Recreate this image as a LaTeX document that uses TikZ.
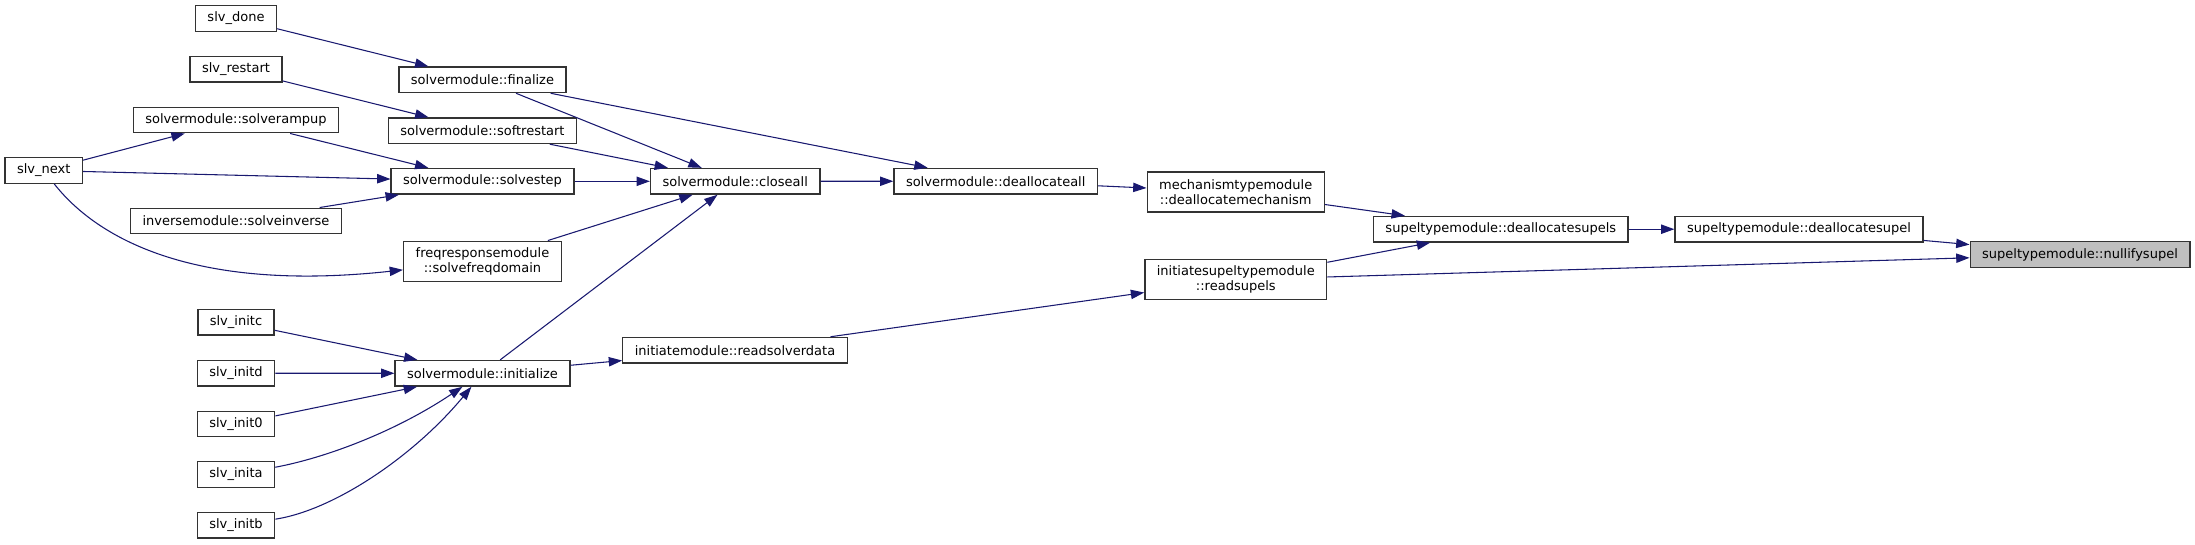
\documentclass[tikz,border=0pt]{standalone}
\usepackage{fontspec}
\setmainfont{DejaVu Sans}
\usepackage{tikz}
\usetikzlibrary{arrows.meta}

\definecolor{edgeblue}{HTML}{191970}
\definecolor{hitgray}{HTML}{BFBFBF}

\begin{document}
\begin{tikzpicture}[x=0.75pt,y=-0.75pt,
    >={Triangle[length=10pt,width=7pt]},
    fn/.style={draw=black!80, line width=1pt, fill=white,
        font=\fontsize{9.75}{11.25}\selectfont,
        inner xsep=9pt, inner ysep=0pt, minimum height=19.2pt},
    fntwo/.style={fn, align=center, minimum height=30pt},
    call/.style={->, draw=edgeblue, line width=0.8pt}]

    \useasboundingbox (0,0) rectangle (2195,544);

    % Callers, left column
    \node[fn] (done)    at (236,18.5)  {slv\_done};
    \node[fn] (restart) at (236,69.3)  {slv\_restart};
    \node[fn] (rampup)  at (236,120)   {solvermodule::solverampup};
    \node[fn] (next)    at (43.7,170.5) {slv\_next};
    \node[fn] (inverse) at (236,221)   {inversemodule::solveinverse};
    \node[fn] (initc)   at (236,322.3) {slv\_initc};
    \node[fn] (initd)   at (236,373.2) {slv\_initd};
    \node[fn] (initz)   at (236,424)   {slv\_init0};
    \node[fn] (inita)   at (236,474.5) {slv\_inita};
    \node[fn] (initb)   at (236,525.2) {slv\_initb};

    % Middle column
    \node[fn] (finalize)    at (482.5,79.8)  {solvermodule::finalize};
    \node[fn] (softrestart) at (482.5,130.7) {solvermodule::softrestart};
    \node[fn] (solvestep)   at (482.5,181.3) {solvermodule::solvestep};
    \node[fntwo] (freqdomain) at (482.5,261.2) {freqresponsemodule\\::solvefreqdomain};
    \node[fn] (initialize)  at (482.5,373.3) {solvermodule::initialize};

    \node[fn] (closeall)    at (735.2,181.3) {solvermodule::closeall};
    \node[fn] (readsolver)  at (735,350.2)   {initiatemodule::readsolverdata};
    \node[fn] (deallocall)  at (995.7,181.2) {solvermodule::deallocateall};

    % Right part
    \node[fntwo] (deallocmech) at (1235.7,192)   {mechanismtypemodule\\::deallocatemechanism};
    \node[fntwo] (readsupels)  at (1235.8,279.7) {initiatesupeltypemodule\\::readsupels};
    \node[fn] (deallocsupels)  at (1500.8,229.2) {supeltypemodule::deallocatesupels};
    \node[fn] (deallocsupel)   at (1799,229.2)   {supeltypemodule::deallocatesupel};
    \node[fn, fill=hitgray] (nullify) at (2080,254.5) {supeltypemodule::nullifysupel};

    % Calls
    \draw[call] (done) -- (finalize);
    \draw[call] (restart) -- (softrestart);
    \draw[call] (next) -- (rampup);
    \draw[call] (rampup) -- (solvestep);
    \draw[call] (next) -- (solvestep);
    \draw[call] (inverse) -- (solvestep);
    \draw[call] (next) .. controls (100,242) and (200,292) .. (freqdomain);

    \draw[call] (initc) -- (initialize);
    \draw[call] (initd) -- (initialize);
    \draw[call] (initz) -- (initialize);
    \draw[call] (inita) .. controls (325,458) and (395,432) .. (initialize);
    \draw[call] (initb) .. controls (335,510) and (415,455) .. (initialize);

    \draw[call] (finalize) -- (closeall);
    \draw[call] (finalize) -- (deallocall);
    \draw[call] (softrestart) -- (closeall);
    \draw[call] (solvestep) -- (closeall);
    \draw[call] (freqdomain) -- (closeall);
    \draw[call] (initialize) -- (closeall);
    \draw[call] (initialize) -- (readsolver);

    \draw[call] (closeall) -- (deallocall);
    \draw[call] (deallocall) -- (deallocmech);
    \draw[call] (readsolver) -- (readsupels);
    \draw[call] (deallocmech) -- (deallocsupels);
    \draw[call] (readsupels) -- (deallocsupels);
    \draw[call] (readsupels) -- (nullify);
    \draw[call] (deallocsupels) -- (deallocsupel);
    \draw[call] (deallocsupel) -- (nullify);

\end{tikzpicture}
\end{document}
